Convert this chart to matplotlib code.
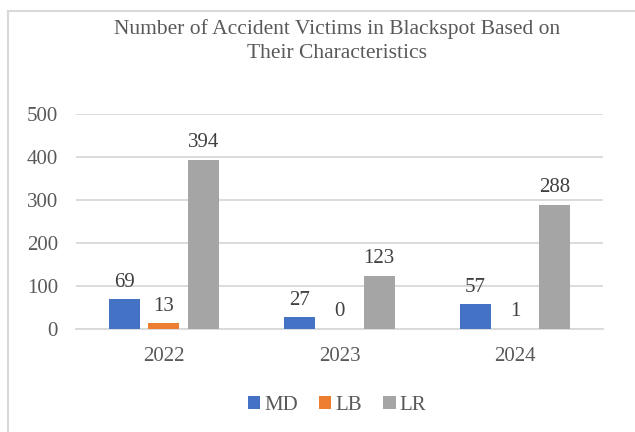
import numpy as np
import matplotlib.pyplot as plt
from matplotlib.lines import Line2D

years = ['2022', '2023', '2024']
md = [69, 27, 57]
lb = [13, 0, 1]
lr = [394, 123, 288]
series_names = ['MD', 'LB', 'LR']
colors = ['#4472c4', '#ed7d31', '#a5a5a5']

plt.rcParams['font.family'] = ['Liberation Serif', 'DejaVu Serif']
text_color = '#595959'
grid_color = '#d9d9d9'
fs = 15


def main():
    fig = plt.figure(figsize=(6.35, 4.32), dpi=100)
    ax = fig.add_axes([76 / 635, 1 - 329 / 432, 527 / 635, 215 / 432])

    x = np.arange(len(years))
    width = 0.177
    step = 0.226
    for i, (vals, name, c) in enumerate(zip([md, lb, lr], series_names, colors)):
        pos = x + (i - 1) * step
        bars = ax.bar(pos, vals, width, color=c, label=name, zorder=3)
        for b, v in zip(bars, vals):
            ax.text(b.get_x() + b.get_width() / 2, v + 18, str(v),
                    ha='center', va='bottom', fontsize=fs, color='#404040')

    ax.set_xlim(-0.5, 2.5)
    ax.set_ylim(0, 500)
    ax.set_yticks(range(0, 501, 100))
    ax.set_xticks(x)
    ax.set_xticklabels(years)
    ax.yaxis.grid(True, color=grid_color, linewidth=1.3, zorder=0)
    for s in ['top', 'right', 'left']:
        ax.spines[s].set_visible(False)
    ax.spines['bottom'].set_color(grid_color)
    ax.spines['bottom'].set_linewidth(1.3)
    ax.tick_params(axis='both', length=0, labelsize=fs, labelcolor=text_color)
    ax.tick_params(axis='x', pad=13)
    ax.tick_params(axis='y', pad=13)

    fig.text(337 / 635, 1 - 41 / 432,
             'Number of Accident Victims in Blackspot Based on\nTheir Characteristics',
             ha='center', va='center', fontsize=15.5, color=text_color, linespacing=1.35)

    fig.legend(loc='center', bbox_to_anchor=(337 / 635, 1 - 405 / 432), ncol=3,
               frameon=False, fontsize=fs, handlelength=0.6, handleheight=0.6,
               handletextpad=0.2, columnspacing=1.0, labelcolor=text_color)

    # chart frame, only top and left edges show in the crop
    fig.add_artist(Line2D([8 / 635, 1], [1 - 11 / 432, 1 - 11 / 432],
                          transform=fig.transFigure, color=grid_color, linewidth=1.5))
    fig.add_artist(Line2D([8 / 635, 8 / 635], [0, 1 - 11 / 432],
                          transform=fig.transFigure, color=grid_color, linewidth=1.5))

    fig.savefig('out.png', dpi=100)


if __name__ == '__main__':
    main()
